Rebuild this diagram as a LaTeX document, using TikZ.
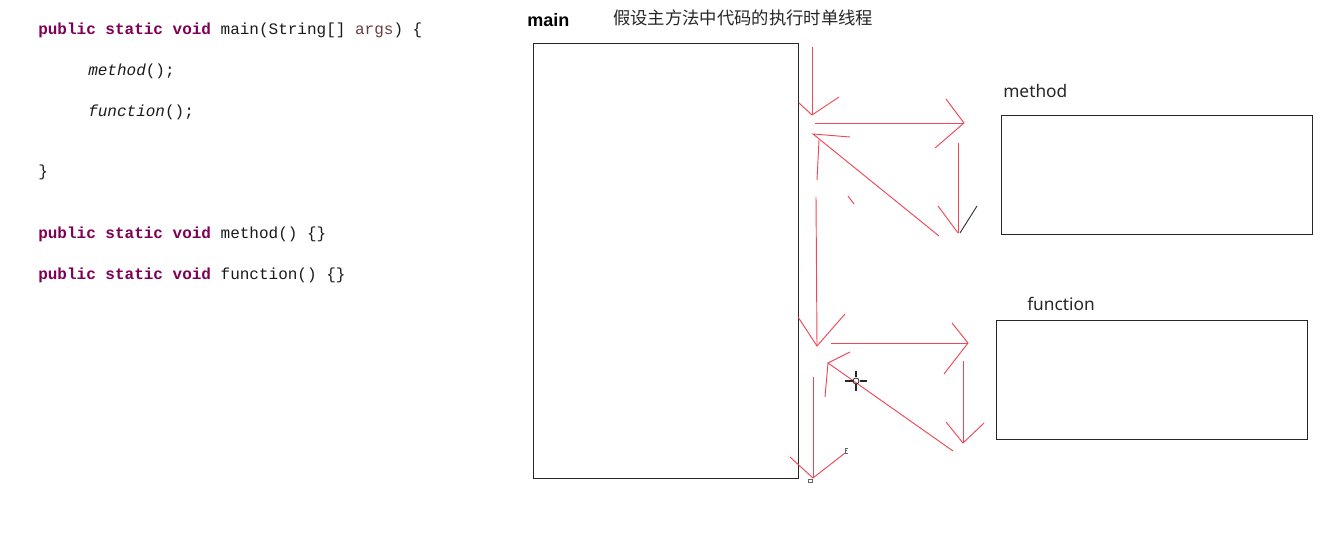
\documentclass[tikz,border=0pt]{standalone}
\usepackage{fontspec}
\setmainfont{Noto Sans}
\setmonofont{Liberation Mono}
\newfontfamily\cjk{Noto Sans CJK SC}
\newfontfamily\boldlbl{Liberation Sans}
\definecolor{kwc}{HTML}{7F0055}
\definecolor{argc}{HTML}{6A3E3E}
\definecolor{redc}{RGB}{240,70,85}
\definecolor{codec}{HTML}{1A1A1A}
\newcommand{\kwd}[1]{\textcolor{kwc}{\textbf{#1}}}
\begin{document}
\begin{tikzpicture}[x=0.75pt,y=-0.75pt,
  codetext/.style={anchor=base west, inner sep=0pt, text=codec, font=\ttfamily\fontsize{12}{14}\selectfont},
  lbl/.style={anchor=base west, inner sep=0pt, text=black!85, font=\fontsize{13}{15}\selectfont},
  boxline/.style={draw=black!85, line width=0.65pt},
  redline/.style={draw=redc, line width=0.7pt},
  blkline/.style={draw=black!80, line width=0.7pt}]
\useasboundingbox (0,0) rectangle (1341,555);
% code
\node[codetext] (c1) at (38,35) {\kwd{public} \kwd{static} \kwd{void} main(String[] \textcolor{argc}{args}) \{};
\node[codetext] (c2) at (88,76) {\textit{method}();};
\node[codetext] (c3) at (88,117) {\textit{function}();};
\node[codetext] (c4) at (38,177) {\}};
\node[codetext] (c5) at (38,239) {\kwd{public} \kwd{static} \kwd{void} method() \{\}};
\node[codetext] (c6) at (38,280) {\kwd{public} \kwd{static} \kwd{void} function() \{\}};
% labels
\node[lbl, font=\boldlbl\bfseries\fontsize{13.5}{15}\selectfont, text=black] (lmain) at (527,27) {main};
\node[lbl, font=\cjk\fontsize{13}{15}\selectfont] (ltitle) at (613,25) {假设主方法中代码的执行时单线程};
\node[lbl] (lmethod) at (1003,98) {method};
\node[lbl] (lfunction) at (1027,311) {function};
% boxes
\coordinate (mainA) at (533,43); \coordinate (mainB) at (798,478);
\coordinate (methA) at (1001,115); \coordinate (methB) at (1312,234);
\coordinate (funcA) at (996,320); \coordinate (funcB) at (1307,439);
\draw[boxline] (mainA) rectangle (mainB);
\draw[boxline] (methA) rectangle (methB);
\draw[boxline] (funcA) rectangle (funcB);
% arrow 1
\coordinate (a1s) at (812,47); \coordinate (a1e) at (812,115);
\coordinate (h1l) at (799,103); \coordinate (h1r) at (839,97);
\draw[redline] (a1s) -- (a1e);
\draw[redline] (h1l) -- (a1e) -- (h1r);
% arrow 2
\coordinate (a2s) at (815,123); \coordinate (a2e) at (964,123);
\coordinate (h2u) at (946,99); \coordinate (h2d) at (935,148);
\draw[redline] (a2s) -- (a2e);
\draw[redline] (h2u) -- (a2e) -- (h2d);
% arrow 3
\coordinate (a3s) at (958,143); \coordinate (a3e) at (958,233);
\coordinate (h3l) at (938,206); \coordinate (h3b) at (960,233); \coordinate (h3r) at (977,206);
\draw[redline] (a3s) -- (a3e);
\draw[redline] (h3l) -- (a3e);
\draw[blkline] (h3b) -- (h3r);
% arrow 4
\coordinate (a4s) at (939,236); \coordinate (a4e) at (813,134);
\coordinate (h4a) at (850,137);
\coordinate (s4a) at (819,140); \coordinate (s4b) at (817,180);
\coordinate (s4c) at (848,196); \coordinate (s4d) at (854,204);
\draw[redline] (a4s) -- (a4e) -- (h4a);
\draw[redline] (s4a) -- (s4b);
\draw[redline] (s4c) -- (s4d);
% arrow 5
\coordinate (a5s) at (816,197); \coordinate (a5e) at (817,346);
\coordinate (h5l) at (798,317); \coordinate (h5r) at (845,314);
\draw[redline] (a5s) -- (a5e);
\draw[redline] (h5l) -- (a5e) -- (h5r);
% arrow 6
\coordinate (a6s) at (831,343); \coordinate (a6e) at (968,343);
\coordinate (h6u) at (952,323); \coordinate (h6d) at (944,374);
\draw[redline] (a6s) -- (a6e);
\draw[redline] (h6u) -- (a6e) -- (h6d);
% arrow 7
\coordinate (a7s) at (963,361); \coordinate (a7e) at (963,443);
\coordinate (h7l) at (946,422); \coordinate (h7r) at (984,423);
\draw[redline] (a7s) -- (a7e);
\draw[redline] (h7l) -- (a7e) -- (h7r);
% arrow 8
\coordinate (a8s) at (953,451); \coordinate (a8e) at (828,363);
\coordinate (h8a) at (850,352); \coordinate (h8b) at (825,397);
\draw[redline] (a8s) -- (a8e) -- (h8a);
\draw[redline] (a8e) -- (h8b);
% arrow 9
\coordinate (a9s) at (813,377); \coordinate (a9e) at (813,478);
\coordinate (h9l) at (790,457); \coordinate (h9r) at (845,453);
\draw[redline] (a9s) -- (a9e);
\draw[redline] (h9l) -- (a9e) -- (h9r);
% small marks
\draw[black!60, line width=0.5pt] (808,479) rectangle (812,482);
\draw[black!60, line width=0.5pt] (848,448) -- (845,448) -- (845,453) -- (848,453) (845,450.5) -- (847,450.5);
% cursor
\coordinate (cur) at (856,381);
\draw[black!85, line width=0.8pt] (845,381) -- (852.5,381) (859.5,381) -- (867,381)
  (856,371) -- (856,377.5) (856,384.5) -- (856,391);
\draw[black!85, line width=0.6pt] (cur) circle (3);
\end{tikzpicture}
\end{document}
